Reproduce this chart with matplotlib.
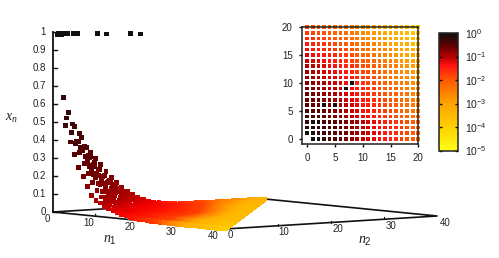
import numpy as np
import matplotlib
matplotlib.use('Agg')
import matplotlib.pyplot as plt
from matplotlib.colors import LinearSegmentedColormap, LogNorm

plt.rcParams['font.family'] = ['Liberation Sans', 'DejaVu Sans']
plt.rcParams['mathtext.fontset'] = 'custom'
plt.rcParams['mathtext.rm'] = 'Liberation Sans'
plt.rcParams['mathtext.it'] = 'Liberation Serif:italic'

# -100*log10(x_n), one list per n2, running over n1 = 0 .. 40-n2
levels = [
    [None, 0, 0, 31, 40, 48, 58, 67, 79, 94, 105, 112, 122, 130, 140, 152, 162, 175, 190, 205, 220, 232, 245, 257, 270, 282, 295, 307, 318, 330, 342, 354, 366, 378, 390, 402, 414, 426, 438, 458, 475],
    [0, 0, 28, 35, 41, 47, 55, 64, 74, 86, 98, 108, 118, 128, 138, 150, 160, 172, 185, 200, 214, 226, 238, 250, 262, 275, 287, 299, 311, 323, 335, 347, 359, 371, 383, 395, 407, 419, 431, 445],
    [20, 0, 31, 40, 44, 50, 58, 66, 76, 88, 100, 110, 120, 130, 141, 152, 163, 175, 188, 202, 217, 229, 241, 253, 265, 277, 289, 301, 313, 325, 337, 349, 361, 373, 385, 397, 409, 421, 433],
    [26, 0, 0, 38, 44, 50, 58, 67, 77, 89, 101, 112, 122, 132, 143, 154, 165, 177, 190, 204, 219, 231, 243, 255, 267, 279, 291, 303, 315, 327, 339, 351, 363, 375, 387, 399, 411, 423],
    [33, 41, 47, 55, 63, 71, 80, 90, 101, 113, 125, 136, 146, 157, 168, 179, 190, 203, 216, 230, 245, 257, 269, 281, 293, 305, 317, 329, 341, 353, 365, 377, 389, 401, 413, 425, 437],
    [37, 45, 51, 59, 67, 75, 84, 94, 105, 117, 129, 140, 150, 161, 172, 183, 194, 207, 220, 234, 249, 261, 273, 285, 297, 309, 321, 333, 345, 357, 369, 381, 393, 405, 417, 429],
    [45, 53, 59, 0, 75, 0, 92, 102, 113, 125, 137, 148, 158, 169, 180, 191, 202, 215, 228, 242, 257, 269, 281, 293, 305, 317, 329, 341, 353, 365, 377, 389, 401, 413, 425],
    [50, 58, 64, 72, 80, 88, 97, 107, 118, 130, 142, 153, 163, 174, 185, 196, 207, 220, 233, 247, 262, 274, 286, 298, 310, 322, 334, 346, 358, 370, 382, 394, 406, 418],
    [55, 65, 71, 79, 87, 95, 104, 114, 125, 137, 149, 160, 170, 181, 192, 203, 214, 227, 240, 254, 269, 281, 293, 305, 317, 329, 341, 353, 365, 377, 389, 401, 413],
    [61, 72, 78, 86, 94, 102, 111, 0, 132, 144, 156, 167, 177, 188, 199, 210, 221, 234, 247, 261, 276, 288, 300, 312, 324, 336, 348, 360, 372, 384, 396, 408],
    [68, 80, 86, 94, 102, 110, 119, 129, 0, 152, 164, 175, 185, 196, 207, 218, 229, 242, 255, 269, 284, 296, 308, 320, 332, 344, 356, 368, 380, 392, 404],
    [76, 88, 94, 102, 110, 118, 127, 137, 148, 160, 172, 183, 193, 204, 215, 226, 237, 250, 263, 277, 292, 304, 316, 328, 340, 352, 364, 376, 388, 400],
    [85, 96, 102, 110, 118, 126, 135, 145, 156, 168, 180, 191, 201, 212, 223, 234, 245, 258, 271, 285, 300, 312, 324, 336, 348, 360, 372, 384, 396],
    [94, 104, 110, 118, 126, 134, 143, 153, 164, 176, 188, 199, 209, 220, 231, 242, 253, 266, 279, 293, 308, 320, 332, 344, 356, 368, 380, 392],
    [105, 116, 122, 130, 138, 146, 155, 165, 176, 188, 200, 211, 221, 232, 243, 254, 265, 278, 291, 305, 320, 332, 344, 356, 368, 380, 392],
    [116, 128, 134, 142, 150, 158, 167, 177, 188, 200, 212, 223, 233, 244, 255, 266, 277, 290, 303, 317, 332, 344, 356, 368, 380, 392],
    [128, 140, 146, 154, 162, 170, 179, 189, 200, 212, 224, 235, 245, 256, 267, 278, 289, 302, 315, 329, 344, 356, 368, 380, 392],
    [142, 153, 159, 167, 175, 183, 192, 202, 213, 225, 237, 248, 258, 269, 280, 291, 302, 315, 328, 342, 357, 369, 381, 393],
    [155, 166, 172, 180, 188, 196, 205, 215, 226, 238, 250, 261, 271, 282, 293, 304, 315, 328, 341, 355, 370, 382, 394],
    [168, 178, 184, 192, 200, 208, 217, 227, 238, 250, 262, 273, 283, 294, 305, 316, 327, 340, 353, 367, 382, 394],
    [182, 190, 196, 204, 212, 220, 229, 239, 250, 262, 274, 285, 295, 306, 317, 328, 339, 352, 365, 379, 394],
    [195, 203, 209, 217, 225, 233, 242, 252, 263, 275, 287, 298, 308, 319, 330, 341, 352, 365, 378, 392],
    [208, 216, 222, 230, 238, 246, 255, 265, 276, 288, 300, 311, 321, 332, 343, 354, 365, 378, 391],
    [220, 228, 234, 242, 250, 258, 267, 277, 288, 300, 312, 323, 333, 344, 355, 366, 377, 390],
    [232, 240, 246, 254, 262, 270, 279, 289, 300, 312, 324, 335, 345, 356, 367, 378, 389],
    [245, 253, 259, 267, 275, 283, 292, 302, 313, 325, 337, 348, 358, 369, 380, 391],
    [255, 263, 269, 277, 285, 293, 302, 312, 323, 335, 347, 358, 368, 379, 390],
    [265, 273, 279, 287, 295, 303, 312, 322, 333, 345, 357, 368, 378, 389],
    [275, 283, 289, 297, 305, 313, 322, 332, 343, 355, 367, 378, 388],
    [283, 291, 297, 305, 313, 321, 330, 340, 351, 363, 375, 386],
    [292, 300, 306, 314, 322, 330, 339, 349, 360, 372, 384],
    [300, 308, 314, 322, 330, 338, 347, 357, 368, 380],
    [308, 316, 322, 330, 338, 346, 355, 365, 376],
    [315, 323, 329, 337, 345, 353, 362, 372],
    [322, 330, 336, 344, 352, 360, 369],
    [328, 336, 342, 350, 358, 366],
    [334, 342, 348, 356, 364],
    [340, 348, 354, 362],
    [345, 353, 359],
    [350, 358],
    [355],
]
z_ticks = [0, 0.1, 0.2, 0.3, 0.4, 0.5, 0.6, 0.7, 0.8, 0.9, 1]
z_labels = ['0', '0.1', '0.2', '0.3', '0.4', '0.5', '0.6', '0.7', '0.8', '0.9', '1']
base_ticks = [0, 10, 20, 30, 40]
inset_ticks = [0, 5, 10, 15, 20]
bar_ticks = [1e-5, 1e-4, 1e-3, 1e-2, 1e-1, 1]

# pixel geometry of the 3d view
origin = (53, 212)
n1_vec = (172 / 40, 17 / 40)
n2_vec = (212 / 40, -13 / 40)
z_height = 180

def project(n1, n2, z=0):
    px = origin[0] + n1_vec[0] * n1 + n2_vec[0] * n2
    py = origin[1] + n1_vec[1] * n1 + n2_vec[1] * n2 - z_height * z
    return px, py

heat = LinearSegmentedColormap.from_list('heat', [
    (0.0, '#ffff14'), (0.2, '#ffd000'), (0.4, '#ffa400'), (0.6, '#ff5a00'),
    (0.73, '#ff1010'), (0.8, '#b80000'), (0.9, '#5c0000'), (1.0, '#141010')])
# the 3d surface reads redder than the map beside it
heat_surface = LinearSegmentedColormap.from_list('heat_surface', [
    (0.0, '#ffe000'), (0.05, '#ffd000'), (0.3, '#ffb000'), (0.38, '#ff8000'), (0.46, '#ff4000'),
    (0.54, '#ff2800'), (0.62, '#ff1000'), (0.7, '#f00000'), (0.78, '#b00000'), (0.9, '#5c0000'),
    (1.0, '#141010')])
norm = LogNorm(1e-5, 1)

n1_all, n2_all, x_all = [], [], []
for n2 in range(len(levels) - 1, -1, -1):  # back rows first
    for n1, lev in enumerate(levels[n2]):
        if lev is None:
            continue
        n1_all.append(n1)
        n2_all.append(n2)
        x_all.append(10 ** (-lev / 100) * (0.99 if lev == 0 else 1))
n1_all, n2_all, x_all = np.array(n1_all), np.array(n2_all), np.array(x_all)

fig = plt.figure(figsize=(4.99, 2.58), dpi=100)
ax = fig.add_axes([0, 0, 1, 1])
ax.set_xlim(0, 499)
ax.set_ylim(258, 0)
ax.axis('off')

text_col = '#222222'
line_col = '#111111'

# floor of the 3d box
corners = [(0, 0), (40, 0), (40, 40), (0, 40), (0, 0)]
ax.plot(*project(np.array([c[0] for c in corners]), np.array([c[1] for c in corners])),
        color=line_col, lw=1.2, zorder=1)
# z axis
z_bottom_x, z_bottom_y = project(0, 0)
for t, lab in zip(z_ticks, z_labels):
    y = project(0, 0, t)[1]
    ax.plot([z_bottom_x, z_bottom_x + 4], [y, y], color=line_col, lw=1, zorder=1)
    ax.text(z_bottom_x - 7, y, lab, ha='right', va='center', fontsize=7, color=text_col)
ax.plot([z_bottom_x, z_bottom_x], [z_bottom_y, project(0, 0, 1)[1]], color=line_col, lw=1.3, zorder=1)

for t in base_ticks:
    x1, y1 = project(t, 0)
    ax.text(x1 - 6 - 0.15 * t, y1 + 7, str(t), ha='center', va='center', fontsize=7, color=text_col)
    x2, y2 = project(40, t)
    ax.text(x2 + 5 + 0.08 * t, y2 + 6.5, str(t), ha='center', va='center', fontsize=7, color=text_col)
    if 0 < t < 40:
        ax.plot([x1, x1 - 0.5], [y1, y1 - 2], color=line_col, lw=0.8, zorder=1)
        ax.plot([x2, x2], [y2, y2 - 2], color=line_col, lw=0.8, zorder=1)

ax.text(11, 118, r'$x_n$', ha='center', va='center', fontsize=10, color=text_col)
ax.text(110, 240, r'$n_1$', ha='center', va='center', fontsize=10, color=text_col)
ax.text(365, 241, r'$n_2$', ha='center', va='center', fontsize=10, color=text_col)

px, py = project(n1_all, n2_all, x_all)
ax.scatter(px, py, c=x_all, cmap=heat_surface, norm=norm, s=12, marker='s', linewidths=0, zorder=3)

# inset map
W, H = 499, 258
inset = fig.add_axes([301.7 / W, 1 - 144.3 / H, 116.6 / W, 117 / H])
keep = (n1_all <= 20) & (n2_all <= 20)
inset.scatter(n1_all[keep], n2_all[keep], c=x_all[keep], cmap=heat, norm=norm,
              s=7, marker='s', linewidths=0, clip_on=False, zorder=1)
inset.set_xlim(-1, 20)
inset.set_ylim(-1, 20)
inset.set_xticks(inset_ticks)
inset.set_yticks(inset_ticks)
inset.tick_params(direction='out', length=2.5, width=1, labelsize=7, pad=4, labelcolor=text_col, color=line_col)
for s in inset.spines.values():
    s.set_linewidth(1.1)
    s.set_color('#222222')
    s.set_zorder(5)

# colour bar
cax = fig.add_axes([439 / W, 1 - 150.7 / H, 18.7 / W, 117.4 / H])
sm = plt.cm.ScalarMappable(cmap=heat, norm=norm)
cbar = fig.colorbar(sm, cax=cax, ticks=bar_ticks)
cbar.minorticks_off()
cbar.set_ticks(bar_ticks)
cbar.set_ticklabels(['$10^{-5}$', '$10^{-4}$', '$10^{-3}$', '$10^{-2}$', '$10^{-1}$', '$10^{0}$'])
cax.tick_params(direction='in', length=2.5, width=1, left=True, right=True, labelsize=7.5, pad=5,
                labelcolor=text_col, color='#111111')
cbar.outline.set_linewidth(1.1)
cbar.outline.set_edgecolor('#222222')

fig.savefig('out.png', dpi=100)
